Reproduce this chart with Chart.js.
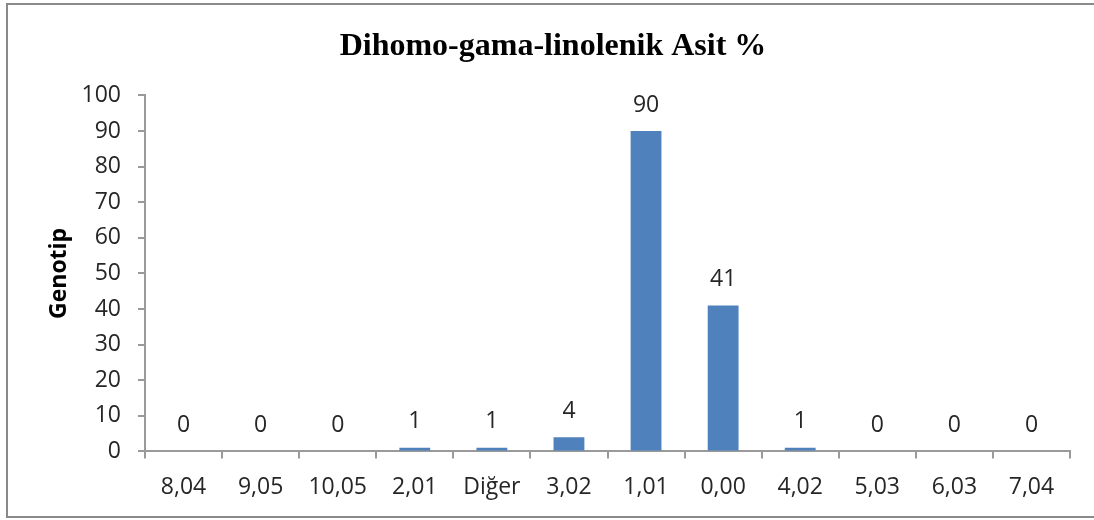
<!DOCTYPE html>
<html>
<head>
<meta charset="utf-8">
<script src="https://cdn.jsdelivr.net/npm/chart.js@4"></script>
<style>
html,body{margin:0;padding:0;background:#fff;}
#wrap{position:relative;width:1094px;height:520px;}
</style>
</head>
<body>
<div id="wrap"><canvas id="c" width="1094" height="520"></canvas></div>
<script>
const categories = ["8,04","9,05","10,05","2,01","Diğer","3,02","1,01","0,00","4,02","5,03","6,03","7,04"];
const genotypeCounts = [0,0,0,1,1,4,90,41,1,0,0,0];
const yTicks = [0,10,20,30,40,50,60,70,80,90,100];
const chartTitle = "Dihomo-gama-linolenik Asit %";
const yAxisTitle = "Genotip";

const frame = {
  id: 'frame',
  beforeDraw(chart) {
    const ctx = chart.ctx;
    ctx.save();
    ctx.fillStyle = '#fff';
    ctx.fillRect(0,0,chart.width,chart.height);
    ctx.strokeStyle = '#8a8a8a';
    ctx.lineWidth = 2;
    ctx.strokeRect(7,4,1100,513);
    ctx.restore();
  }
};

const dataLabels = {
  id: 'dataLabels',
  afterDatasetsDraw(chart) {
    const ctx = chart.ctx;
    const meta = chart.getDatasetMeta(0);
    ctx.save();
    ctx.font = '23px "Open Sans"';
    ctx.fillStyle = '#262626';
    ctx.textAlign = 'center';
    ctx.textBaseline = 'middle';
    meta.data.forEach((bar, i) => {
      ctx.fillText(String(chart.data.datasets[0].data[i]), bar.x, bar.y - 26);
    });
    ctx.restore();
  }
};

new Chart(document.getElementById('c'), {
  type: 'bar',
  data: {
    labels: categories,
    datasets: [{
      data: genotypeCounts,
      backgroundColor: '#4F81BD',
      borderWidth: 0,
      barPercentage: 0.4,
      categoryPercentage: 1.0
    }]
  },
  options: {
    responsive: false,
    animation: false,
    layout: { padding: { left: 36, right: 24, top: 0, bottom: 4 } },
    plugins: {
      legend: { display: false },
      tooltip: { enabled: false },
      title: {
        display: true,
        text: chartTitle,
        color: '#000',
        font: { family: '"Liberation Serif", "Times New Roman", serif', size: 32, weight: 'bold', lineHeight: 1.2 },
        padding: { top: 28, bottom: 29 }
      }
    },
    scales: {
      x: {
        offset: true,
        grid: { display: true, drawOnChartArea: false, drawTicks: true, tickLength: 7, offset: true, color: '#9a9a9a', lineWidth: 2 },
        border: { display: true, color: '#9a9a9a', width: 2 },
        ticks: { color: '#262626', font: { family: '"Open Sans"', size: 23 }, padding: 15, maxRotation: 0, autoSkip: false }
      },
      y: {
        min: 0, max: 100,
        afterBuildTicks(scale) { scale.ticks = yTicks.map(v => ({ value: v })); },
        afterFit(scale) { scale.width = 109; },
        grid: { display: true, drawOnChartArea: false, drawTicks: true, tickLength: 7, color: '#9a9a9a', lineWidth: 2 },
        border: { display: true, color: '#9a9a9a', width: 2 },
        ticks: { color: '#262626', font: { family: '"Open Sans"', size: 23 }, padding: 17 },
        title: {
          display: true,
          text: yAxisTitle,
          color: '#000',
          font: { family: '"Open Sans"', size: 23, weight: 'bold' },
          padding: { top: 10, bottom: 0 }
        }
      }
    }
  },
  plugins: [frame, dataLabels]
});
</script>
</body>
</html>
